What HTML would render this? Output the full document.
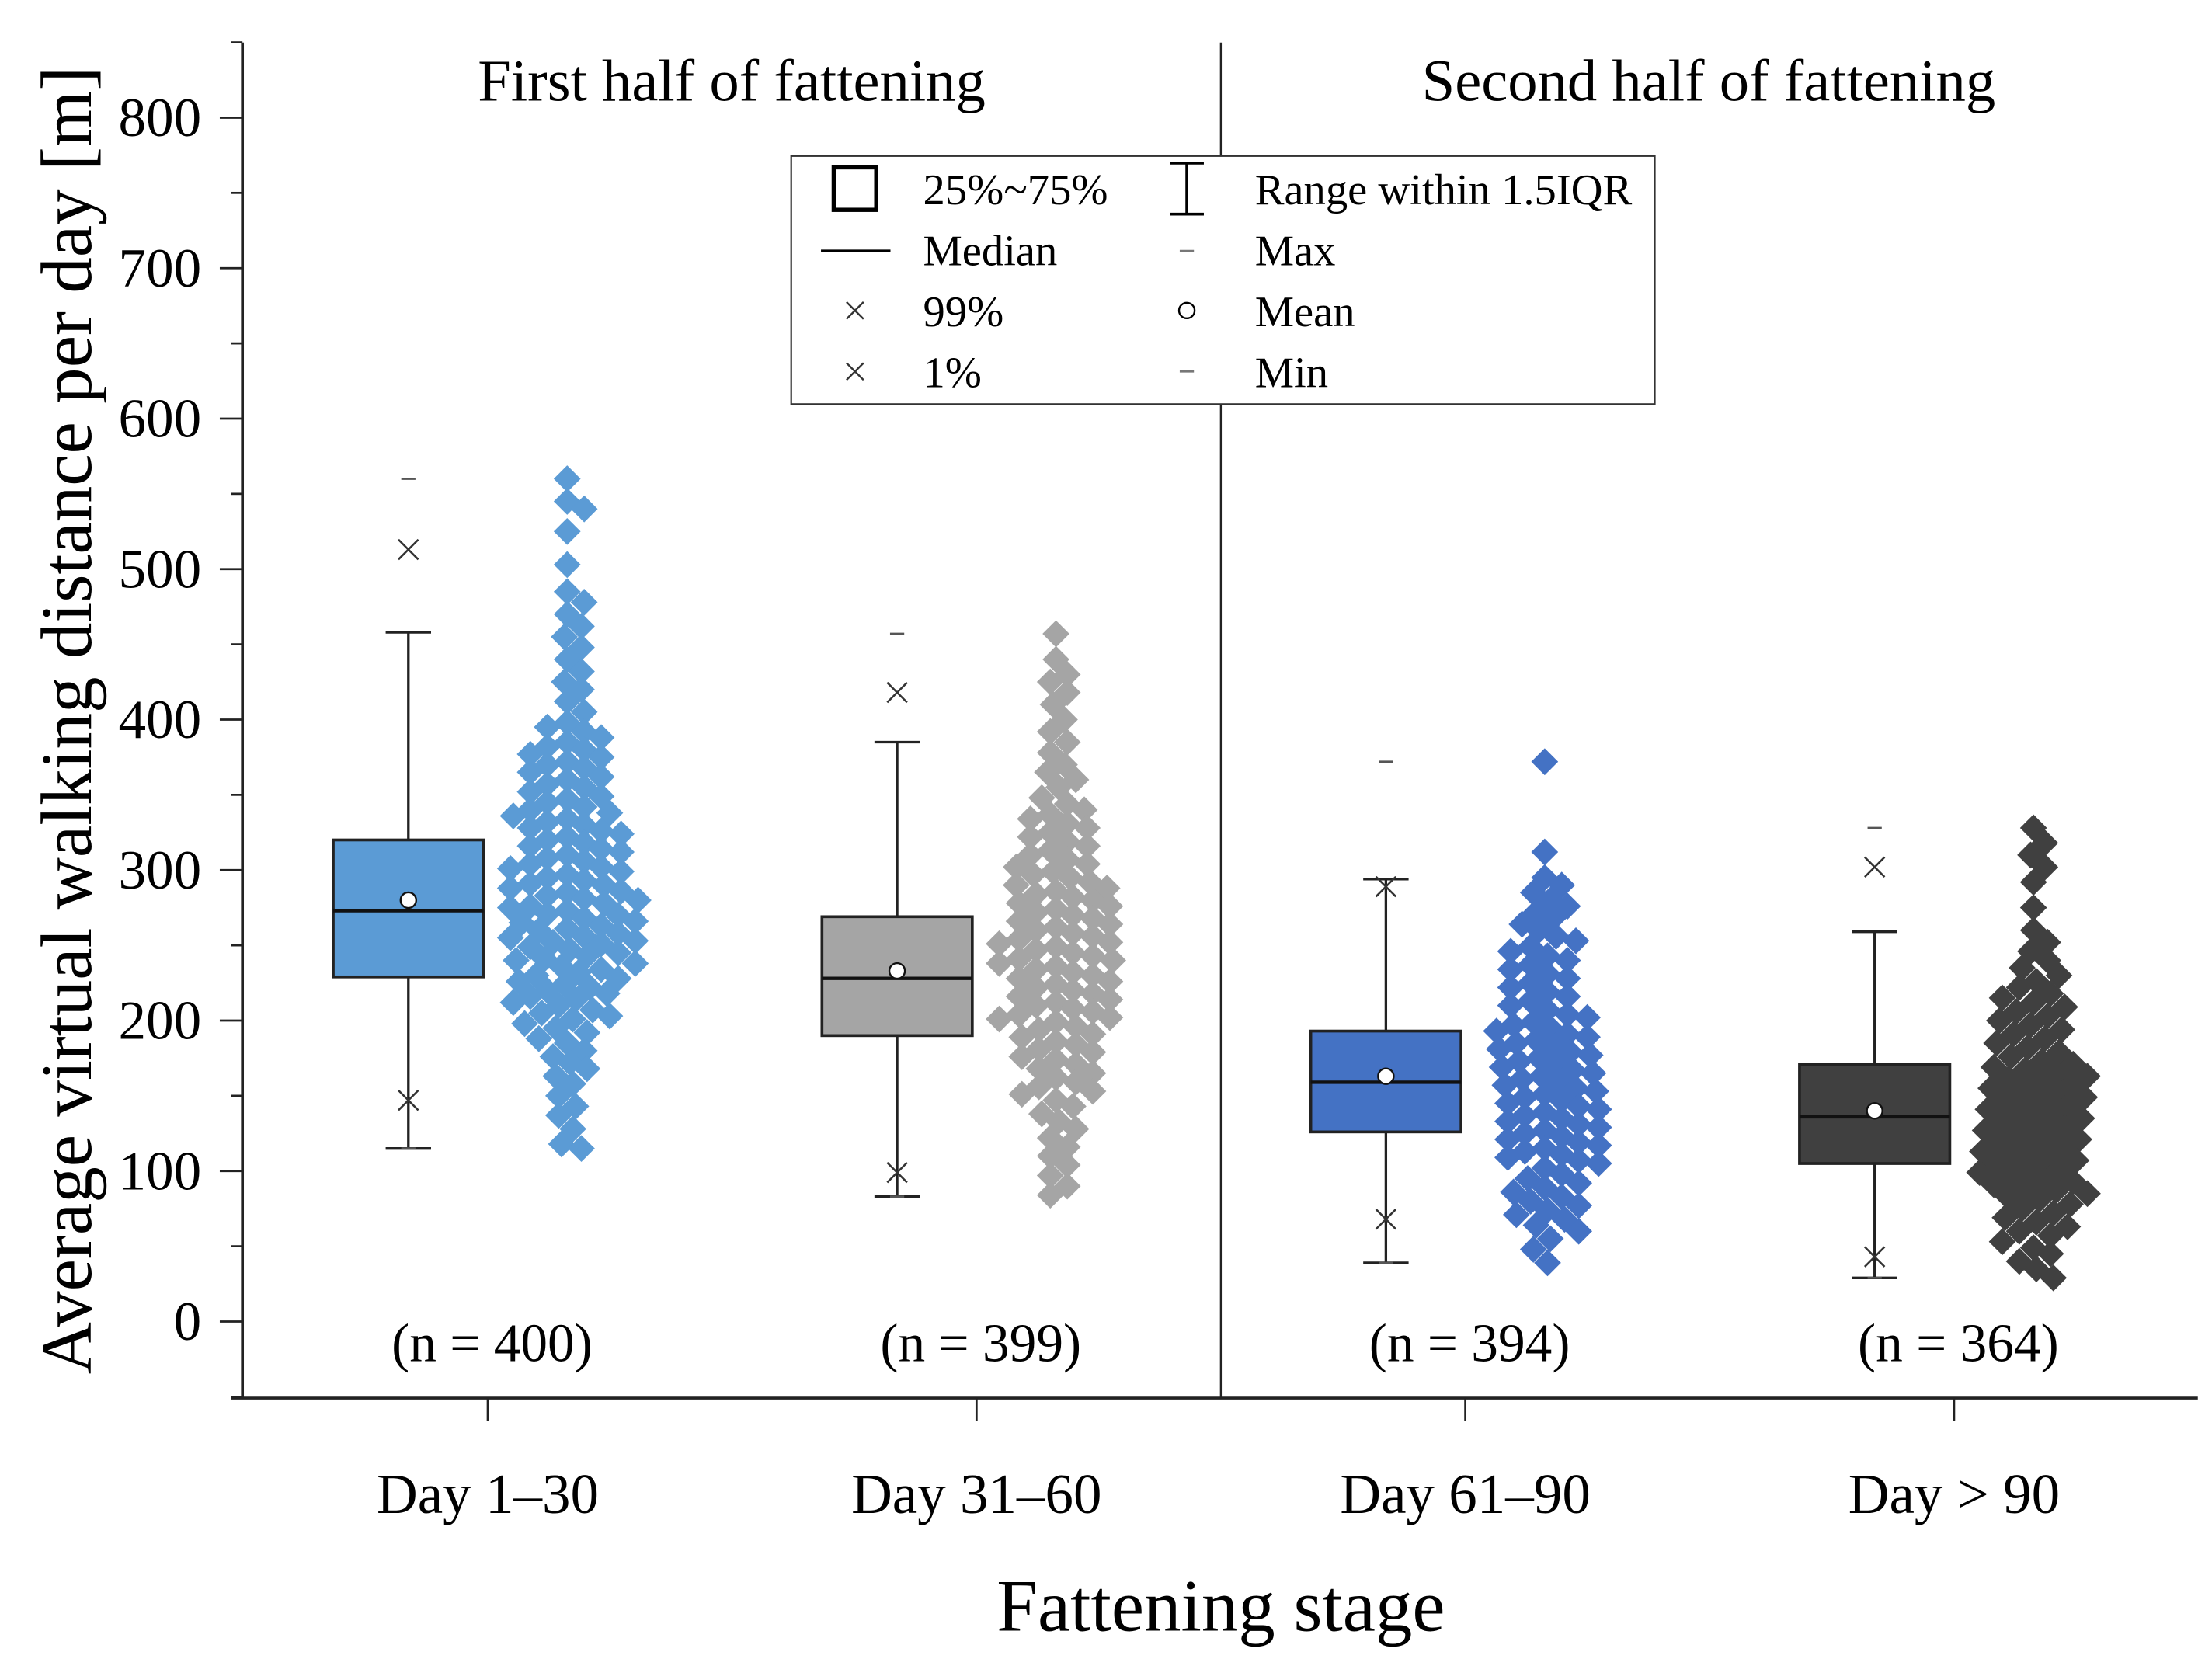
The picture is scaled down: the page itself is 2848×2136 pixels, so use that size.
<!DOCTYPE html>
<html><head><meta charset="utf-8"><style>
html,body{margin:0;padding:0;background:#fff;}
svg{display:block;font-family:"Liberation Serif",serif;}
</style></head><body>
<svg id="chart" width="2848" height="2136" viewBox="0 0 1560 1170" xmlns="http://www.w3.org/2000/svg">
<g id="axes"></g>
<g id="marks"></g>
<g id="legend">
  <rect x="558" y="110" width="609" height="175" fill="#fff" stroke="#333" stroke-width="1.2"/>
  <rect x="588" y="118" width="30" height="30" fill="none" stroke="#000" stroke-width="3"/>
  <text x="651" y="144" font-size="31">25%~75%</text>
  <line x1="579" y1="177" x2="628" y2="177" stroke="#000" stroke-width="2"/>
  <text x="651" y="187" font-size="31">Median</text>
  <path d="M597 213L609 225M597 225L609 213" stroke="#333" stroke-width="1.3"/>
  <text x="651" y="230" font-size="31">99%</text>
  <path d="M597 256L609 268M597 268L609 256" stroke="#333" stroke-width="1.3"/>
  <text x="651" y="273" font-size="31">1%</text>
  <path d="M825 115H849M837 115V151M825 151H849" stroke="#000" stroke-width="2" fill="none"/>
  <text x="885" y="144" font-size="31">Range within 1.5IQR</text>
  <line x1="832" y1="177" x2="842" y2="177" stroke="#777" stroke-width="1.5"/>
  <text x="885" y="187" font-size="31">Max</text>
  <circle cx="837" cy="219" r="5.5" fill="#fff" stroke="#000" stroke-width="1.3"/>
  <text x="885" y="230" font-size="31">Mean</text>
  <line x1="832" y1="262" x2="842" y2="262" stroke="#777" stroke-width="1.5"/>
  <text x="885" y="273" font-size="31">Min</text>
</g>
</svg>
<script>
const categories = ["Day 1–30","Day 31–60","Day 61–90","Day > 90"];
const nLabels = ["(n = 400)","(n = 399)","(n = 394)","(n = 364)"];
const colors = ["#5b9bd5","#a5a5a5","#4472c4","#404040"];
const q1 = [229,190,126,105];
const q3 = [320,269,193,171];
const medians = [273,228,159,136];
const means = [280,233,163,140];
const whiskerHigh = [458,385,294,259];
const whiskerLow = [115,83,39,29];
const p99 = [513,418,289,302];
const p1 = [147,99,68,43];
const maxVals = [560,457,372,328];
const minVals = [115,83,39,29];
const yTicks = [0,100,200,300,400,500,600,700,800];
const g1 = [560,545,540,525,503,485,478,470,462,455,448,440,432,425,420,412,405,398,395,392,388,385,382,380,377,375,372,370,368,365,362,360,357,355,352,349,347,345,342,340,338,336,334,332,330,328,326,324,322,320,318,316,314,312,310,308,306,304,302,301,299,297,295,293,291,290,288,286,285,283,281,280,278,276,275,273,271,270,268,266,265,263,261,260,258,256,255,253,252,251,249,247,245,243,241,240,238,236,234,232,230,228,226,224,222,220,218,216,214,212,210,207,205,203,201,198,195,192,188,185,180,176,172,168,163,158,150,143,137,128,118,115];
const g2 = [457,440,430,425,418,410,400,392,385,378,370,365,360,355,348,344,340,337,334,331,328,325,322,319,316,313,310,307,304,302,299,297,295,292,290,288,286,284,282,280,278,276,274,272,270,268,266,264,262,260,258,256,254,252,251,249,247,245,243,241,240,238,236,234,232,230,228,226,224,222,220,218,216,214,212,210,208,206,204,202,201,199,196,194,191,189,186,184,181,179,176,174,171,168,165,162,159,156,153,151,147,143,138,133,128,122,116,110,104,97,90,84];
const g3 = [372,312,295,290,285,280,276,272,268,264,260,256,253,249,246,243,240,237,234,231,228,225,222,219,216,213,210,207,204,202,199,197,195,193,191,189,187,185,183,181,179,177,175,173,171,169,167,165,163,161,159,157,155,153,151,149,147,145,143,141,139,137,135,133,131,129,127,125,123,121,119,117,115,113,111,109,107,105,102,98,95,92,89,86,83,80,77,74,71,68,64,60,55,48,39];
const g4 = [328,318,310,302,292,275,260,252,246,240,235,230,226,222,218,215,212,209,206,203,200,197,194,191,188,185,182,179,176,173,171,169,167,165,163,161,159,157,155,153,151,149,147,145,143,141,139,137,135,133,131,129,127,125,123,121,119,117,115,113,111,109,107,105,103,101,99,97,95,93,91,89,87,85,83,81,78,75,72,69,66,63,60,57,53,49,45,40,35,29];
const groups = [g1,g2,g3,g4];

const NS="http://www.w3.org/2000/svg";
const axes=document.getElementById('axes'), marks=document.getElementById('marks');
function y(v){return 932 - v*1.0613;}
function xc(i){return 344 + i*344.7;}
function mk(tag,attrs,parent){const e=document.createElementNS(NS,tag);for(const k in attrs)e.setAttribute(k,attrs[k]);parent.appendChild(e);return e;}

let e;
e=mk('line',{x1:171,y1:30,x2:171,y2:986,stroke:'#222','stroke-width':2},axes);


e=mk('line',{x1:163,y1:986,x2:1550,y2:986,stroke:'#222','stroke-width':2},axes);


e=mk('line',{x1:861,y1:30,x2:861,y2:986,stroke:'#222','stroke-width':1.3},axes);


for(let v=-50;v<=850;v+=50){
  const major = yTicks.includes(v);
  e=mk('line',{x1:major?155:163,y1:y(v),x2:171,y2:y(v),stroke:'#222','stroke-width':1.5},axes);
  
  
}
yTicks.forEach(v=>{
  e=mk('text',{x:142,y:y(v)+13,'font-size':39,'text-anchor':'end'},axes);
  e.textContent=v;
  
  
});
e=mk('text',{x:0,y:0,'font-size':51,'text-anchor':'middle',transform:'translate(64,508) rotate(-90)'},axes);
e.textContent='Average virtual walking distance per day [m]';


e=mk('text',{x:861,y:1150,'font-size':52,'text-anchor':'middle'},axes);
e.textContent='Fattening stage';


e=mk('text',{x:516,y:71,'font-size':42,'text-anchor':'middle'},axes);
e.textContent='First half of fattening';


e=mk('text',{x:1205,y:71,'font-size':42,'text-anchor':'middle'},axes);
e.textContent='Second half of fattening';



categories.forEach((c,i)=>{
  const cx=xc(i);
  e=mk('line',{x1:cx,y1:986,x2:cx,y2:1002,stroke:'#222','stroke-width':1.5},axes);
  
  
  e=mk('text',{x:cx,y:1067,'font-size':40,'text-anchor':'middle'},axes);
  e.textContent=c;
  
  
  e=mk('text',{x:cx+3,y:960,'font-size':38,'text-anchor':'middle'},axes);
  e.textContent=nLabels[i];
  
  

  const bx=cx-56, hw=53;
  const g=mk('g',{},marks);
  
  
  e=mk('path',{d:`M${bx} ${y(whiskerHigh[i])}V${y(q3[i])}M${bx} ${y(q1[i])}V${y(whiskerLow[i])}M${bx-16} ${y(whiskerHigh[i])}H${bx+16}M${bx-16} ${y(whiskerLow[i])}H${bx+16}`,stroke:'#222','stroke-width':1.8,fill:'none'},g);
  
  
  e=mk('rect',{x:bx-hw,y:y(q3[i]),width:2*hw,height:y(q1[i])-y(q3[i]),fill:colors[i],stroke:'#222','stroke-width':2},g);
  
  
  e=mk('line',{x1:bx-hw,y1:y(medians[i]),x2:bx+hw,y2:y(medians[i]),stroke:'#111','stroke-width':2.4},g);
  
  
  e=mk('circle',{cx:bx,cy:y(means[i]),r:5.5,fill:'#fff',stroke:'#111','stroke-width':1.3},g);
  
  
  [p99[i],p1[i]].forEach((v,k)=>{
    e=mk('path',{d:`M${bx-7} ${y(v)-7}L${bx+7} ${y(v)+7}M${bx-7} ${y(v)+7}L${bx+7} ${y(v)-7}`,stroke:'#333','stroke-width':1.4},g);
    
    
  });
  [maxVals[i],minVals[i]].forEach((v,k)=>{
    e=mk('line',{x1:bx-5,y1:y(v),x2:bx+5,y2:y(v),stroke:'#555','stroke-width':1.5},g);
    
    
  });

  // beeswarm
  const sx=cx+56, D=12.5, R=9.5;
  const sg=mk('g',{fill:colors[i]},marks);
  
  
  const placed=[];
  groups[i].forEach(v=>{
    const py=y(v);
    let off=0;
    for(let s=0;s<200;s++){
      const cand = s===0?0:(s%2?1:-1)*Math.ceil(s/2)*2;
      let ok=true;
      for(const p of placed){
        const dy=p[1]-py, dx=p[0]-cand;
        if(dx*dx+dy*dy<D*D){ok=false;break;}
      }
      if(ok){off=cand;break;}
    }
    placed.push([off,py]);
    const px=sx+off;
    const d=mk('path',{d:`M${px} ${py-R}L${px+R} ${py}L${px} ${py+R}L${px-R} ${py}Z`},sg);
    
    
  });
});
</script>
</body></html>
